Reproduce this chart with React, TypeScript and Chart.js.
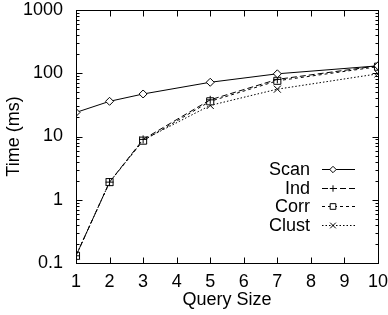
import React, { useEffect, useRef } from "react";
import { Chart, registerables } from "chart.js";

Chart.register(...registerables);

const querySizes = [1, 2, 3, 5, 7, 10];
const scanTimes = [24, 36, 47, 72, 98, 131];
const indTimes = [0.13, 1.9, 9.0, 38, 80, 131];
const corrTimes = [0.13, 1.9, 8.6, 36, 76, 127];
const clustTimes = [0.13, 1.9, 8.8, 31, 56, 98];

const seriesNames = ["Scan", "Ind", "Corr", "Clust"];
const seriesValues = [scanTimes, indTimes, corrTimes, clustTimes];
const seriesDash = [[], [6, 3], [3, 3], [1.5, 2]];
const seriesPoint = ["rectRot", "cross", "rect", "crossRot"];
const seriesRadius = [4, 4, 5, 5];

const xTicks = [1, 2, 3, 4, 5, 6, 7, 8, 9, 10];
const yDecades = [0.1, 1, 10, 100, 1000];

const FONT = "'Liberation Sans', Arial, Helvetica, sans-serif";
const FSIZE = 18;

function drawMarker(ctx: CanvasRenderingContext2D, style: string, r: number, x: number, y: number) {
  ctx.beginPath();
  if (style === "rectRot") {
    ctx.moveTo(x, y - r);
    ctx.lineTo(x + r, y);
    ctx.lineTo(x, y + r);
    ctx.lineTo(x - r, y);
    ctx.closePath();
    ctx.fillStyle = "#fff";
    ctx.fill();
    ctx.stroke();
  } else if (style === "rect") {
    const s = r * Math.SQRT1_2;
    ctx.rect(x - s, y - s, 2 * s, 2 * s);
    ctx.fillStyle = "#fff";
    ctx.fill();
    ctx.stroke();
  } else if (style === "cross") {
    ctx.moveTo(x - r, y);
    ctx.lineTo(x + r, y);
    ctx.moveTo(x, y - r);
    ctx.lineTo(x, y + r);
    ctx.stroke();
  } else {
    const s = r * Math.SQRT1_2;
    ctx.moveTo(x - s, y - s);
    ctx.lineTo(x + s, y + s);
    ctx.moveTo(x + s, y - s);
    ctx.lineTo(x - s, y + s);
    ctx.stroke();
  }
}

const frameAndLegend = {
  id: "frameAndLegend",
  afterDatasetsDraw(chart: any) {
    const { ctx, chartArea } = chart;
    const xs = chart.scales.x;
    const ys = chart.scales.y;
    const { left, right, top, bottom } = chartArea;
    ctx.save();
    ctx.strokeStyle = "#000";
    ctx.lineWidth = 1;
    ctx.setLineDash([]);
    const L = Math.round(left) + 0.5;
    const R = Math.round(right) + 0.5;
    const T = Math.round(top) + 0.5;
    const B = Math.round(bottom) + 0.5;
    ctx.strokeRect(L, T, R - L, B - T);
    ctx.beginPath();
    for (const v of xTicks) {
      const px = Math.round(xs.getPixelForValue(v)) + 0.5;
      ctx.moveTo(px, B);
      ctx.lineTo(px, B - 6);
      ctx.moveTo(px, T);
      ctx.lineTo(px, T + 6);
    }
    for (let i = 0; i < yDecades.length; i++) {
      const d = yDecades[i];
      const py = Math.round(ys.getPixelForValue(d)) + 0.5;
      ctx.moveTo(L, py);
      ctx.lineTo(L + 6, py);
      ctx.moveTo(R, py);
      ctx.lineTo(R - 6, py);
      if (i < yDecades.length - 1) {
        for (let m = 2; m <= 9; m++) {
          const pm = Math.round(ys.getPixelForValue(d * m)) + 0.5;
          ctx.moveTo(L, pm);
          ctx.lineTo(L + 3, pm);
          ctx.moveTo(R, pm);
          ctx.lineTo(R - 3, pm);
        }
      }
    }
    ctx.stroke();

    ctx.font = `${FSIZE}px ${FONT}`;
    ctx.textAlign = "right";
    ctx.textBaseline = "middle";
    const textRight = right - 68;
    const lineStart = right - 56;
    const lineEnd = right - 23;
    const markX = right - 45;
    const rowTop = top + 159;
    const rowGap = 18.7;
    seriesNames.forEach((name, i) => {
      const y = rowTop + i * rowGap;
      ctx.fillStyle = "#000";
      ctx.fillText(name, textRight, y + 1);
      ctx.beginPath();
      ctx.setLineDash(seriesDash[i]);
      ctx.moveTo(lineStart, Math.round(y) + 0.5);
      ctx.lineTo(lineEnd, Math.round(y) + 0.5);
      ctx.stroke();
      ctx.setLineDash([]);
      drawMarker(ctx, seriesPoint[i], seriesRadius[i] * 0.8, markX, Math.round(y) + 0.5);
    });
    ctx.restore();
  },
};

export default function App() {
  const ref = useRef<HTMLCanvasElement | null>(null);
  useEffect(() => {
    if (!ref.current) return;
    const chart = new Chart(ref.current, {
      type: "line",
      data: {
        datasets: seriesNames.map((name, i) => ({
          label: name,
          data: querySizes.map((q, j) => ({ x: q, y: seriesValues[i][j] })),
          borderColor: "#000",
          borderWidth: 1,
          borderDash: seriesDash[i],
          pointStyle: seriesPoint[i] as any,
          pointRadius: seriesRadius[i],
          pointBorderColor: "#000",
          pointBackgroundColor: "#fff",
          pointBorderWidth: 1,
          fill: false,
          tension: 0,
        })),
      },
      options: {
        animation: false,
        responsive: false,
        layout: { padding: { left: 0, top: 10, right: 10, bottom: 0 } },
        plugins: { legend: { display: false }, tooltip: { enabled: false } },
        scales: {
          x: {
            type: "linear",
            min: 1,
            max: 10,
            afterFit: (s: any) => {
              s.height = 52;
              s.paddingLeft = 0;
              s.paddingRight = 0;
            },
            afterBuildTicks: (s: any) => {
              s.ticks = xTicks.map((v) => ({ value: v }));
            },
            grid: { display: false, drawTicks: false },
            border: { display: false },
            ticks: {
              padding: 8,
              color: "#000",
              font: { family: FONT, size: FSIZE },
              autoSkip: false,
              maxRotation: 0,
              callback: (v: any) => String(v),
            },
            title: {
              display: true,
              text: "Query Size",
              color: "#000",
              font: { family: FONT, size: FSIZE },
              padding: { top: 0, bottom: 4 },
            },
          },
          y: {
            type: "logarithmic",
            min: 0.1,
            max: 1000,
            afterFit: (s: any) => {
              s.width = 76;
              s.paddingTop = 0;
              s.paddingBottom = 0;
            },
            afterBuildTicks: (s: any) => {
              s.ticks = yDecades.map((v) => ({ value: v }));
            },
            grid: { display: false, drawTicks: false },
            border: { display: false },
            ticks: {
              padding: 13,
              color: "#000",
              font: { family: FONT, size: FSIZE },
              autoSkip: false,
              callback: (v: any) => String(v),
            },
            title: {
              display: true,
              text: "Time (ms)",
              color: "#000",
              font: { family: FONT, size: FSIZE },
              padding: { top: 3, bottom: 0 },
            },
          },
        },
      },
      plugins: [frameAndLegend],
    });
    return () => chart.destroy();
  }, []);
  return (
    <div style={{ position: "absolute", left: 0, top: 0, width: 388, height: 315, background: "#fff" }}>
      <canvas ref={ref} width={388} height={315} />
    </div>
  );
}
